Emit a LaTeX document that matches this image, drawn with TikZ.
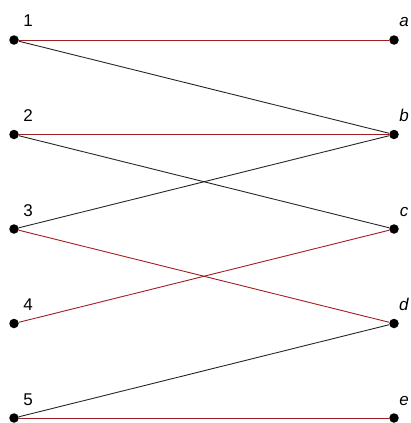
\documentclass[tikz,border=0pt]{standalone}
\usepackage{fontspec}
\setmainfont{Liberation Sans}
\definecolor{edgered}{RGB}{160,30,35}
\begin{document}
\begin{tikzpicture}[x=1pt,y=-1pt,
  vertex/.style={circle,fill=black,inner sep=0pt,minimum size=9.5pt},
  lbl/.style={anchor=base,inner sep=0pt,font=\fontsize{17}{17}\selectfont},
  redge/.style={draw=edgered,line width=0.9pt},
  bedge/.style={draw=black!85,line width=0.9pt}]
\useasboundingbox (0,0) rectangle (410,423);
\foreach \n/\y in {1/40,2/134.5,3/229,4/323.5,5/418}{
  \node[vertex] (L\n) at (14,\y) {};
  \node[lbl] (tL\n) at (28,\y-13) {\n};
}
\foreach \n/\y in {a/40,b/134.5,c/229,d/323.5,e/418}{
  \node[vertex] (R\n) at (394,\y) {};
  \node[lbl] (tR\n) at (404,\y-13) {\textit{\n}};
}
\draw[redge] (L1) -- (Ra);
\draw[bedge] (L1) -- (Rb);
\draw[redge] (L2) -- (Rb);
\draw[bedge] (L2) -- (Rc);
\draw[bedge] (L3) -- (Rb);
\draw[redge] (L3) -- (Rd);
\draw[redge] (L4) -- (Rc);
\draw[bedge] (L5) -- (Rd);
\draw[redge] (L5) -- (Re);
\end{tikzpicture}
\end{document}
